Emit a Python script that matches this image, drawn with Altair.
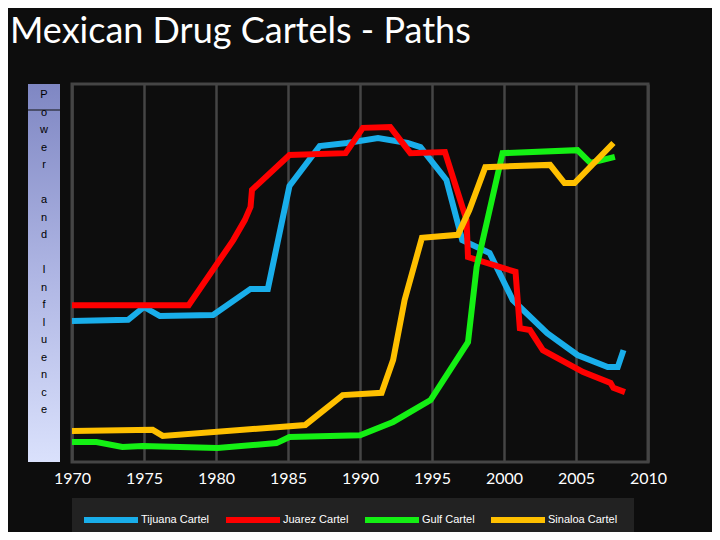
import altair as alt
import pandas as pd

# ---- data ----
tijuana_years = [1970.0, 1973.9, 1975.0, 1976.1, 1979.8, 1982.4, 1983.6, 1985.1, 1987.2, 1989.1,
                 1991.25, 1993.3, 1994.2, 1996.0, 1997.1, 1999.0, 2000.6, 2003.0, 2005.1, 2007.2,
                 2007.9, 2008.3]
tijuana_vals = [37.3, 37.6, 41.0, 38.6, 38.9, 45.8, 45.8, 73.0, 83.6, 84.4,
                85.7, 84.4, 83.3, 74.6, 58.7, 55.3, 42.9, 34.1, 28.3, 25.1,
                25.1, 29.6]

juarez_years = [1970.0, 1978.1, 1981.2, 1982.0, 1982.4, 1982.5, 1985.1, 1989.0, 1990.2, 1992.1,
                1993.5, 1995.9, 1997.4, 1997.5, 2000.8, 2001.1, 2001.8, 2002.7, 2005.5, 2007.4,
                2007.6, 2008.4]
juarez_vals = [41.5, 41.5, 58.7, 64.0, 67.5, 72.0, 81.2, 81.7, 88.4, 88.6,
               81.7, 82.0, 64.0, 54.2, 50.3, 35.4, 34.9, 29.6, 23.8, 20.9,
               19.6, 18.5]

gulf_years = [1970.0, 1971.7, 1973.5, 1974.9, 1980.1, 1984.2, 1985.1, 1990.0, 1992.3, 1994.9,
              1997.5, 1998.1, 1999.9, 2005.1, 2006.0, 2007.7]
gulf_vals = [5.3, 5.3, 4.0, 4.2, 3.7, 5.0, 6.6, 7.1, 10.6, 16.4,
             31.7, 51.6, 81.7, 82.5, 79.1, 80.7]

sinaloa_years = [1970.0, 1975.6, 1976.3, 1986.2, 1988.8, 1991.5, 1992.3, 1993.1, 1994.3, 1996.8,
                 1997.6, 1998.7, 2003.2, 2004.2, 2004.9, 2007.6]
sinaloa_vals = [8.2, 8.5, 6.9, 9.8, 17.7, 18.3, 27.0, 42.9, 59.3, 60.1,
                66.7, 78.0, 78.6, 73.8, 73.8, 84.4]

cartels = ["Tijuana Cartel", "Juarez Cartel", "Gulf Cartel", "Sinaloa Cartel"]
colors = ["#19AEEA", "#FF0000", "#14F014", "#FFC000"]
x_ticks = [1970, 1975, 1980, 1985, 1990, 1995, 2000, 2005, 2010]
y_words = ["Power", "and", "Influence"]     # written one letter per line
word_line_start = [0, 6, 10]                # line index where each word starts
title_text = "Mexican Drug Cartels - Paths"

rows = []
for name, ys, vs in zip(cartels,
                        [tijuana_years, juarez_years, gulf_years, sinaloa_years],
                        [tijuana_vals, juarez_vals, gulf_vals, sinaloa_vals]):
    for yr, v in zip(ys, vs):
        rows.append({"year": yr, "power": v, "cartel": name})
df = pd.DataFrame(rows)
df["order"] = range(len(df))

W, H = 576, 378
LINE_H = 17.5
one = pd.DataFrame({"a": [0]})

panel = alt.Chart(one).mark_rect(
    fill=alt.Gradient(
        gradient="linear",
        stops=[alt.GradientStop(color="#7F87C3", offset=0),
               alt.GradientStop(color="#AEB5E3", offset=0.5),
               alt.GradientStop(color="#DAE1FC", offset=1)],
        x1=0, x2=0, y1=0, y2=1),
).encode(x=alt.value(-44), x2=alt.value(-12), y=alt.value(0), y2=alt.value(H))

divider = alt.Chart(one).mark_rule(color="#111111", strokeWidth=1).encode(
    x=alt.value(-44), x2=alt.value(-12), y=alt.value(26))

word_layers = []
for word, start in zip(y_words, word_line_start):
    word_layers.append(
        alt.Chart(one).mark_text(
            text=list(word), lineHeight=LINE_H, font="Liberation Sans", fontSize=11,
            color="#000000", align="center", baseline="top",
        ).encode(x=alt.value(-28), y=alt.value(5 + start * LINE_H))
    )

lines = alt.Chart(df).mark_line(strokeWidth=6, strokeCap="butt").encode(
    x=alt.X("year:Q", scale=alt.Scale(domain=[1970, 2010], nice=False, zero=False),
            axis=alt.Axis(values=x_ticks, format="d", title=None, grid=True,
                          gridColor="#454545", gridWidth=2.5, ticks=False, domain=False,
                          labelColor="white", labelFontSize=16, labelFont="Lato",
                          labelPadding=8, labelFlush=False, labelOverlap=False)),
    y=alt.Y("power:Q", scale=alt.Scale(domain=[0, 100], nice=False), axis=None),
    color=alt.Color("cartel:N", scale=alt.Scale(domain=cartels, range=colors),
                    legend=alt.Legend(orient="none", legendX=0, legendY=414,
                                      direction="horizontal", title=None,
                                      fillColor="#222222", padding=16,
                                      symbolType="M-3.333,0H14.667", symbolStrokeWidth=6,
                                      symbolSize=36, labelColor="white",
                                      labelFont="Liberation Sans", labelFontSize=11,
                                      columnPadding=4, labelOffset=41)),
    order=alt.Order("order:Q"),
)

chart = alt.layer(panel, divider, *word_layers, lines).properties(
    width=W, height=H,
    autosize=alt.AutoSizeParams(type="none"),
    padding={"left": 64, "top": 76, "right": 64, "bottom": 70},
    background="#0d0d0d",
    title=alt.TitleParams(title_text, anchor="start", frame="group", dx=-62,
                          offset=33, color="white", fontSize=36, font="Lato",
                          fontWeight="normal"),
).configure_view(stroke="#454545", strokeWidth=3)

chart.save("out.html", embed_options={"renderer": "svg", "actions": False})
